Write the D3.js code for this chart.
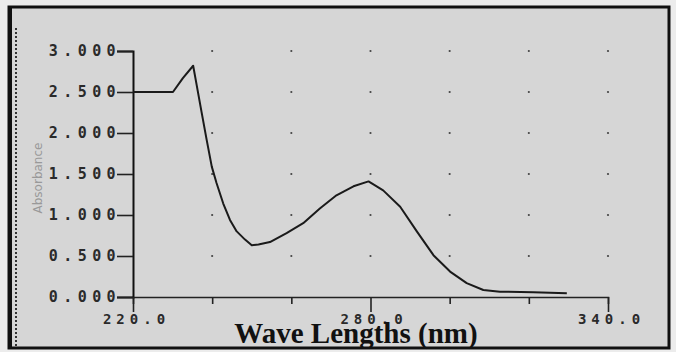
<!DOCTYPE html>
<html>
<head>
<meta charset="utf-8">
<script src="https://cdn.jsdelivr.net/npm/d3@7"></script>
<style>
body { margin: 0; background: #ececec; }
svg { display: block; }
</style>
</head>
<body>
<svg id="chart"></svg>
<script>
var W = 676, H = 352;

// spectrum
var wavelengths = [220, 230.1, 232.6, 235.2, 236.1, 237.3, 238.6, 239.9, 241.1, 242.8, 244.5, 246.2, 248.3, 250, 251.7, 254.6, 258.8, 263, 267.2, 271.4, 275.7, 279.5, 283.2, 287.5, 291.7, 295.9, 300.1, 304.3, 308.5, 312.7, 321.1, 329.6];
var absorbance = [2.5, 2.5, 2.67, 2.82, 2.58, 2.26, 1.92, 1.59, 1.39, 1.14, 0.94, 0.80, 0.70, 0.63, 0.64, 0.67, 0.78, 0.90, 1.08, 1.24, 1.35, 1.41, 1.30, 1.10, 0.80, 0.51, 0.31, 0.17, 0.085, 0.065, 0.057, 0.045];

var x_ticks = [220, 240, 260, 280, 300, 320, 340];
var x_labels = [220, 280, 340];
var y_ticks = [0, 0.5, 1, 1.5, 2, 2.5, 3];
var grid_x = [240, 260, 280, 300, 320, 340];
var grid_y = [0.5, 1, 1.5, 2, 2.5, 3];

var x = d3.scaleLinear().domain([220, 340]).range([133, 608]);
var y = d3.scaleLinear().domain([0, 3]).range([297, 51]);

var svg = d3.select("#chart").attr("width", W).attr("height", H);

// paper + frame
svg.append("rect").attr("x", 9).attr("y", 7).attr("width", 660).attr("height", 341)
	.attr("fill", "#d6d6d6").attr("stroke", "#111").attr("stroke-width", 3);
svg.append("line").attr("x1", 10).attr("x2", 10).attr("y1", 7).attr("y2", 348)
	.attr("stroke", "#111").attr("stroke-width", 4);
svg.append("line").attr("x1", 16).attr("x2", 16).attr("y1", 28).attr("y2", 348)
	.attr("stroke", "#333").attr("stroke-width", 2).attr("stroke-dasharray", "2,2");

// grid dots
var dots = [];
grid_x.forEach(function(gx){ grid_y.forEach(function(gy){ dots.push([gx, gy]); }); });
svg.append("g").selectAll("circle").data(dots).enter().append("circle")
	.attr("cx", function(d){ return x(d[0]); })
	.attr("cy", function(d){ return y(d[1]); })
	.attr("r", 1.1).attr("fill", "#444");

// y axis
var yAxis = svg.append("g").attr("transform", "translate(" + x(220) + ",0)")
	.call(d3.axisLeft(y).tickValues(y_ticks).tickSize(16).tickPadding(-4)
		.tickFormat(d3.format(".3f")));
yAxis.attr("font-family", "'DejaVu Sans Mono', monospace").attr("font-size", 15).attr("font-weight", "bold");
yAxis.select(".domain").attr("stroke", "#111").attr("stroke-width", 2);
yAxis.selectAll(".tick line").attr("stroke", "#222").attr("stroke-width", 1.6);
yAxis.selectAll(".tick text").attr("fill", "#2a2a2a").attr("letter-spacing", 5.4);

// x axis
var xAxis = svg.append("g").attr("transform", "translate(0," + y(0) + ")")
	.call(d3.axisBottom(x).tickValues(x_ticks).tickSizeOuter(0).tickSize(7)
		.tickFormat(function(d){ return x_labels.indexOf(d) >= 0 ? d3.format(".1f")(d) : ""; }));
xAxis.attr("font-family", "'DejaVu Sans Mono', monospace").attr("font-size", 14).attr("font-weight", "bold");
xAxis.select(".domain").attr("stroke", "#222").attr("stroke-width", 1.6);
xAxis.selectAll(".tick line").attr("stroke", "#222").attr("stroke-width", 1.6)
	.attr("y2", function(d){ return x_labels.indexOf(d) >= 0 ? 15 : 7; });
xAxis.selectAll(".tick text").attr("y", 17).attr("dx", 3)
	.attr("fill", "#2a2a2a").attr("letter-spacing", 5);

// curve
var line = d3.line()
	.x(function(d){ return x(d[0]); })
	.y(function(d){ return y(d[1]); });
svg.append("path").datum(d3.zip(wavelengths, absorbance))
	.attr("d", line).attr("fill", "none").attr("stroke", "#1a1a1a").attr("stroke-width", 2)
	.attr("stroke-linejoin", "round");

// titles
svg.append("text").attr("x", 356).attr("y", 343).attr("text-anchor", "middle")
	.style("font-family", "'Liberation Serif', serif").style("font-weight", "bold")
	.style("font-size", "29px").attr("fill", "#111").text("Wave Lengths (nm)");

svg.append("text").attr("transform", "translate(42,178) rotate(-90)").attr("text-anchor", "middle")
	.style("font-family", "'DejaVu Sans', sans-serif").style("font-size", "12px")
	.attr("fill", "#999").text("Absorbance");
</script>
</body>
</html>
